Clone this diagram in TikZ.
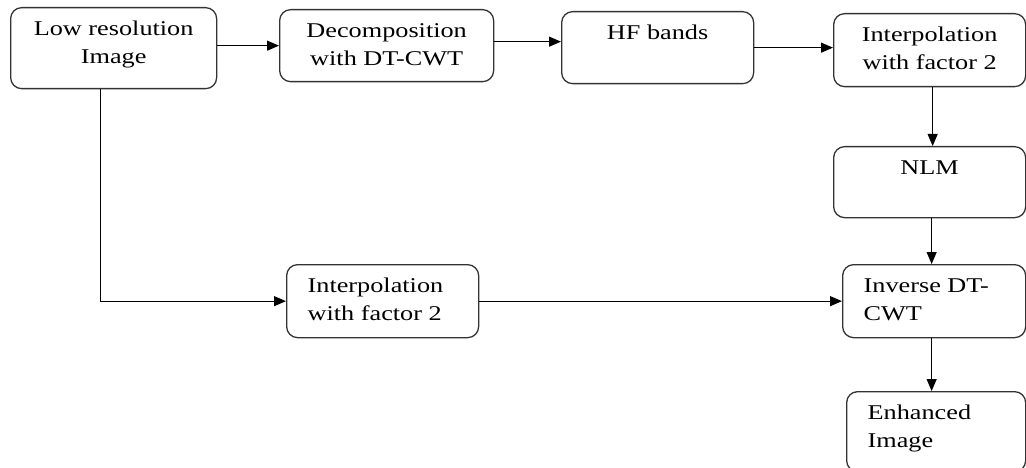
\documentclass[tikz,border=0pt]{standalone}
\usepackage{fontspec}
\setmainfont{Liberation Serif}[FakeStretch=1.25]
\usepackage{tikz}
\usetikzlibrary{arrows.meta}
\newcommand{\boxtext}[4]{\parbox[c][#2][t]{#1}{#3\rule{0pt}{28pt}#4}}
\newcommand{\padleft}{\raggedright\leftskip=21pt\relax}
\tikzset{
    flow-box/.style = {draw=black!80, line width=1.3pt, fill=white, rectangle, rounded corners=11pt, inner sep=0pt, anchor=north west, font=\fontsize{21}{28}\selectfont},
    flow-arrow/.style = {draw=black, line width=1.1pt, -{Triangle[length=12pt,width=10pt]}},
}
\begin{document}
\begin{tikzpicture}[x=1pt,y=1pt]
\useasboundingbox (0,0) rectangle (1026,-468);
% top row
\node[flow-box] (lowres) at (10,-7) {\boxtext{206pt}{81pt}{\centering}{Low resolution\\Image}};
\node[flow-box] (decomp) at (279,-9) {\boxtext{214pt}{72pt}{\centering}{Decomposition\\with DT-CWT}};
\node[flow-box] (hfbands) at (561,-11) {\boxtext{192pt}{72pt}{\centering}{HF bands}};
\node[flow-box] (interpH) at (833,-13) {\boxtext{192pt}{73pt}{\centering}{Interpolation\\with factor 2}};
% right column
\node[flow-box] (nlm) at (833,-146) {\boxtext{192pt}{71pt}{\centering}{NLM}};
\node[flow-box] (invdt) at (842,-264) {\boxtext{183pt}{73pt}{\padleft}{Inverse DT-\\CWT}};
\node[flow-box] (enhanced) at (846,-391) {\boxtext{179pt}{80pt}{\padleft}{Enhanced\\Image}};
% lower path
\node[flow-box] (interpL) at (286,-264) {\boxtext{192pt}{73pt}{\padleft}{Interpolation\\with factor 2}};

\draw[flow-arrow] (lowres.east |- decomp.west) -- (decomp.west);
\draw[flow-arrow] ([yshift=4pt]decomp.east) -- ([yshift=4pt]decomp.east -| hfbands.west);
\draw[flow-arrow] (hfbands.east) -- (hfbands.east -| interpH.west);
\draw[flow-arrow] ([xshift=3pt]interpH.south) -- ([xshift=3pt]nlm.north);
\draw[flow-arrow] ([xshift=2pt]nlm.south) -- ([xshift=2pt]nlm.south |- invdt.north);
\draw[flow-arrow] ([xshift=2pt]nlm.south |- invdt.south) -- ([xshift=2pt]nlm.south |- enhanced.north);
\draw[flow-arrow] ([xshift=-13pt]lowres.south) |- (interpL.west);
\draw[flow-arrow] (interpL.east) -- (interpL.east -| invdt.west);
\end{tikzpicture}
\end{document}
